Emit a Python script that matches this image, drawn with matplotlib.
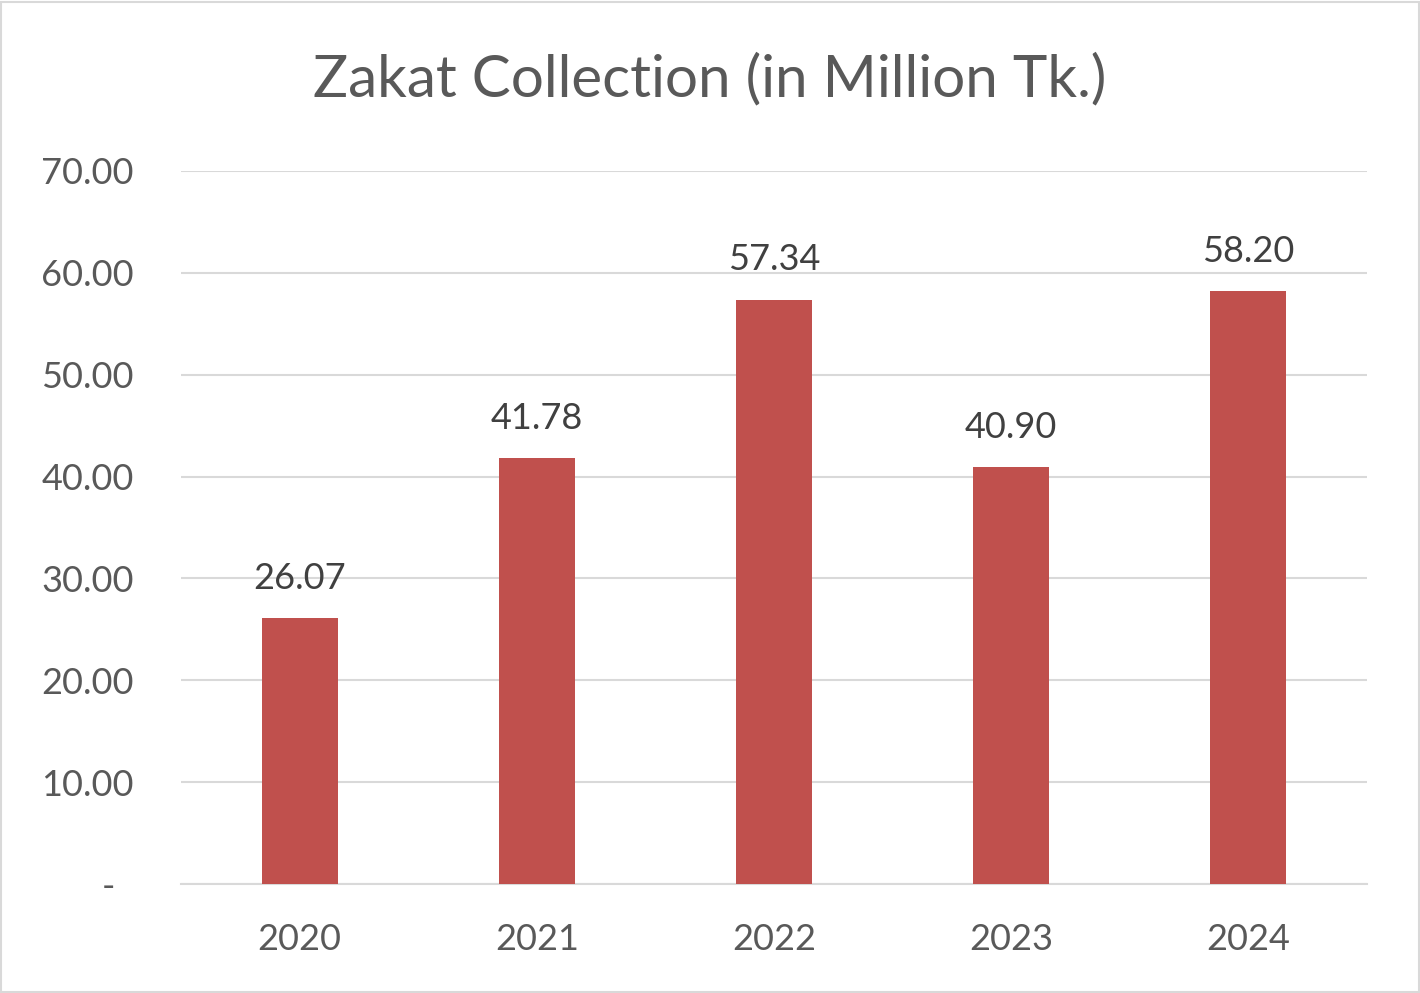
import matplotlib
matplotlib.use('Agg')
import matplotlib.pyplot as plt
from matplotlib.patches import Rectangle

years = ['2020', '2021', '2022', '2023', '2024']
zakat = [26.07, 41.78, 57.34, 40.90, 58.20]
yticks = [0, 10, 20, 30, 40, 50, 60, 70]
ytick_labels = ['-  ', '10.00', '20.00', '30.00', '40.00', '50.00', '60.00', '70.00']

plt.rcParams['font.family'] = ['Lato', 'DejaVu Sans']

fig = plt.figure(figsize=(14.2, 9.93), dpi=100)
ax = fig.add_axes([181 / 1420, 1 - 884 / 993, (1367 - 181) / 1420, (884 - 171) / 993])

x = list(range(len(years)))
bars = ax.bar(x, zakat, width=0.32, color='#C0504D', zorder=3)

for xi, v in zip(x, zakat):
    ax.annotate('%.2f' % v, (xi, v), xytext=(0, 17), textcoords='offset points',
                ha='center', va='bottom', fontsize=26, color='#404040')

ax.set_xlim(-0.5, 4.5)
ax.set_ylim(0, 70)
ax.set_yticks(yticks)
ax.set_yticklabels(ytick_labels)
ax.set_xticks(x)
ax.set_xticklabels(years)
ax.tick_params(axis='y', length=0, pad=34, labelsize=26, labelcolor='#595959')
ax.tick_params(axis='x', length=0, pad=28, labelsize=26, labelcolor='#595959')

ax.grid(axis='y', color='#D9D9D9', linewidth=1.5, zorder=0)
for s in ['top', 'right', 'left']:
    ax.spines[s].set_visible(False)
ax.spines['bottom'].set_color('#D9D9D9')
ax.spines['bottom'].set_linewidth(1.5)

fig.text(0.5, 1 - 80 / 993, 'Zakat Collection (in Million Tk.)', ha='center', va='center',
         fontsize=42, color='#595959')

fig.patches.append(Rectangle((0.001, 0.001), 0.998, 0.997, transform=fig.transFigure,
                             fill=False, edgecolor='#D9D9D9', linewidth=1.5))

plt.savefig('out.png', dpi=100)
